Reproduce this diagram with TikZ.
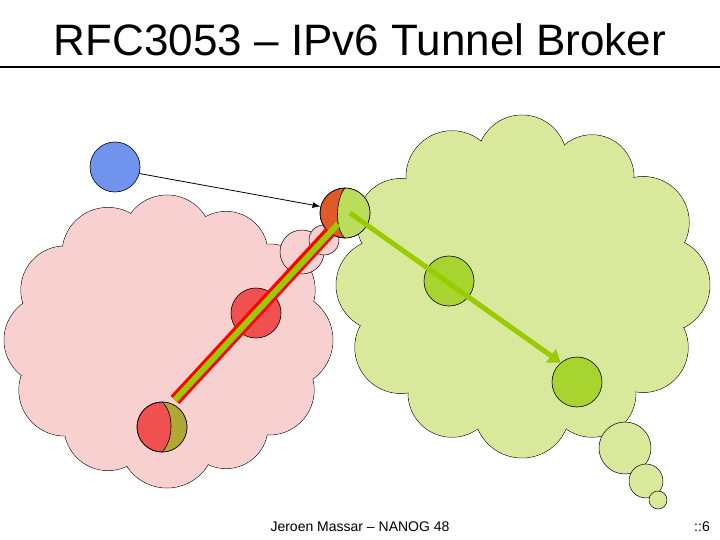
\documentclass[tikz,border=0pt]{standalone}
\usepackage{fontspec}
\setmainfont{Liberation Sans}
\usetikzlibrary{arrows.meta}
\definecolor{pinkc}{HTML}{F9D0D0}
\definecolor{greenc}{HTML}{D8E99C}
\definecolor{nodeg}{HTML}{A8D430}
\definecolor{nodeb}{HTML}{7094EE}
\definecolor{noder}{HTML}{F05050}
\definecolor{nodeo}{HTML}{E05A28}
\definecolor{olive}{HTML}{B0A830}
\definecolor{lgreen}{HTML}{BCDC5C}
\definecolor{arrg}{HTML}{99CC00}
\begin{document}
\begin{tikzpicture}[x=1pt,y=-1pt,
  nd/.style={circle,draw=black,line width=0.6pt,minimum size=50pt,inner sep=0pt},
  bub/.style={draw=black,line width=0.5pt}]
\useasboundingbox (0,0) rectangle (720,540);
% title
\node (title) at (360,40) {\fontsize{44}{48}\selectfont RFC3053 -- IPv6 Tunnel Broker};
\draw[line width=1.5pt] (0,67) -- (720,67);
% pink cloud
\foreach \a/\r in {0/48,30/45,60/42,90/48,120/44,150/46,180/45,210/44,240/46,270/45,300/42,330/46}
  \draw[bub,fill=pinkc] ({167+118*cos(\a)},{340+100*sin(\a)}) circle (\r);
\foreach \a/\r in {0/48,30/45,60/42,90/48,120/44,150/46,180/45,210/44,240/46,270/45,300/42,330/46}
  \fill[pinkc] ({167+118*cos(\a)},{340+100*sin(\a)}) circle (\r-0.5);
\fill[pinkc] (167,340) ellipse (128 and 110);
\draw[bub,fill=pinkc] (302,252) circle (22);
\draw[bub,fill=pinkc] (324,240) circle (15);
% green cloud
\foreach \a/\r in {0/48,30/45,60/44,90/48,120/44,150/46,180/46,210/44,240/46,270/45,300/42,330/46}
  \draw[bub,fill=greenc] ({522+140*cos(\a)},{285+125*sin(\a)}) circle (\r);
\foreach \a/\r in {0/48,30/45,60/44,90/48,120/44,150/46,180/46,210/44,240/46,270/45,300/42,330/46}
  \fill[greenc] ({522+140*cos(\a)},{285+125*sin(\a)}) circle (\r-0.5);
\fill[greenc] (522,285) ellipse (150 and 135);
\draw[bub,fill=greenc] (625,448) circle (26);
\draw[bub,fill=greenc] (646,481) circle (17);
\draw[bub,fill=greenc] (658,500) circle (9);
% nodes
\node[nd,fill=nodeb] (blue) at (115,167) {};
\node[nd,fill=nodeg] (g1) at (449,281) {};
\node[nd,fill=nodeg] (g2) at (577,382) {};
\node[nd,fill=noder] (r1) at (256,313) {};
\node[nd,fill=nodeo] (tb) at (345,213) {};
\fill[lgreen] (345,188) arc (-90:90:25) .. controls (335,230) and (335,200) .. (345,188);
\draw[line width=0.6pt] (345,188) .. controls (335,200) and (335,230) .. (345,238);
\node[nd] at (345,213) {};
\node[nd,fill=noder] (cl) at (162,427) {};
\fill[olive] (162,402) arc (-90:90:25) .. controls (174,440) and (174,412) .. (162,402);
\draw[line width=0.6pt] (162,402) .. controls (174,412) and (174,440) .. (162,452);
\node[nd] at (162,427) {};
% arrows
\draw[-{Latex[length=8pt,width=6pt]},line width=0.8pt] (blue.-15) -- (tb.165);
\draw[line width=12pt,red] (175,400) -- (330,232);
\draw[line width=6pt,arrg] (175,400) -- (338,224);
\draw[line width=5pt,arrg,-{Triangle[length=12pt,width=16pt]}] (350,213) -- (g2.130);
% footer
\node (foot) at (360,527) {\fontsize{14}{16}\selectfont Jeroen Massar -- NANOG 48};
\node (pg) at (702,527) {\fontsize{14}{16}\selectfont ::6};
\end{tikzpicture}
\end{document}
